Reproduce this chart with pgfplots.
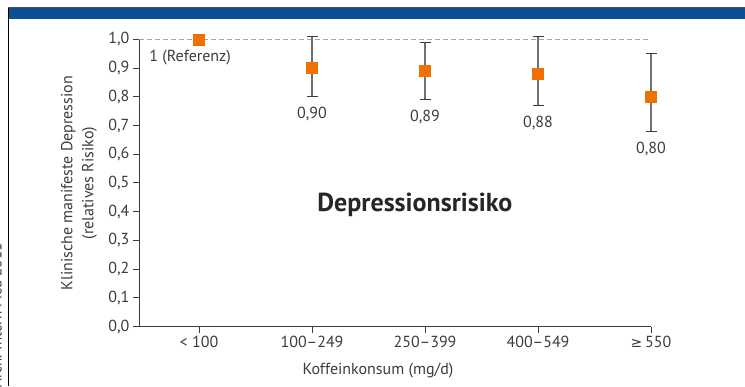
\documentclass[border=0pt]{standalone}
\usepackage{pgfplots}
\pgfplotsset{compat=1.18}
\usepackage{fontspec}
\setmainfont{PT Sans}
\newfontfamily\symfont{DejaVu Sans}
\definecolor{barblue}{HTML}{0B4F95}
\definecolor{orng}{HTML}{EE7203}
\definecolor{axgray}{HTML}{3C3C3C}
\definecolor{ebgray}{HTML}{707070}
\begin{document}
\begin{tikzpicture}[x=1pt,y=1pt]
\useasboundingbox (0,0) rectangle (745,386);
\fill[barblue] (8,367) rectangle (745,378);
\draw[axgray!90, line width=1.2pt] (8,378.4) -- (745,378.4);
\draw[black, line width=1.4pt] (8.6,0) -- (8.6,378);
\node[rotate=90, anchor=base east, font=\fontsize{15}{18}\selectfont, text=axgray] at (1.5,146) {Arch. Intern Med 2011};
\node[rotate=90, align=center, font=\fontsize{16}{21}\selectfont, text=axgray] at (79,203) {Klinische manifeste Depression\\(relatives Risiko)};
\node[font=\fontsize{16}{19}\selectfont, text=axgray] at (378,15) {Koffeinkonsum (mg/d)};
\begin{axis}[
  at={(139pt,59.3pt)}, anchor=south west,
  scale only axis, width=512pt, height=287.4pt,
  xmin=-0.531, xmax=4, ymin=0, ymax=1,
  clip=false,
  axis x line*=bottom, axis y line*=left,
  axis line style={axgray, line width=1pt},
  tick style={axgray, line width=1pt},
  tick align=outside, major tick length=6pt,
  xtick={0,1,2,3,4},
  xticklabels={{< 100},{100–249},{250–399},{400–549},{{\symfont\fontsize{14}{17}\selectfont ≥}\,550}},
  ytick={0,0.1,...,1.0},
  yticklabel style={/pgf/number format/.cd, use comma, fixed, fixed zerofill, precision=1, assume math mode=true},
  ticklabel style={font=\fontsize{16}{19}\selectfont, text=axgray},
]
\draw[gray!70, dashed, dash pattern=on 5pt off 3pt, line width=0.9pt] (axis cs:-0.531,1) -- (axis cs:4,1);
\addplot[only marks, mark=square*, mark size=5.5pt, orng, mark options={draw=none, fill=orng}] coordinates {(0,1.0)};
\addplot[only marks, mark=square*, mark size=5.5pt, orng, mark options={draw=none, fill=orng},
  error bars/.cd, y dir=both, y explicit,
  error bar style={ebgray, line width=1.4pt},
  error mark options={rotate=90, mark size=5.5pt, axgray, line width=1.3pt}]
  coordinates {
  (1,0.90) += (0,0.11) -= (0,0.10)
  (2,0.89) += (0,0.10) -= (0,0.10)
  (3,0.88) += (0,0.13) -= (0,0.11)
  (4,0.80) += (0,0.15) -= (0,0.12)
  };
\node[anchor=west, font=\fontsize{16}{19}\selectfont, text=axgray, inner sep=0pt] at (axis cs:-0.44,0.938) {1 (Referenz)};
\node[anchor=north, font=\fontsize{16}{19}\selectfont, text=axgray] at (axis cs:1,0.775) {0,90};
\node[anchor=north, font=\fontsize{16}{19}\selectfont, text=axgray] at (axis cs:2,0.765) {0,89};
\node[anchor=north, font=\fontsize{16}{19}\selectfont, text=axgray] at (axis cs:3,0.745) {0,88};
\node[anchor=north, font=\fontsize{16}{19}\selectfont, text=axgray] at (axis cs:4,0.655) {0,80};
\node[font=\bfseries\fontsize{26}{31}\selectfont, text=black!85] at (axis cs:1.91,0.423) {Depressionsrisiko};
\end{axis}
\end{tikzpicture}
\end{document}
